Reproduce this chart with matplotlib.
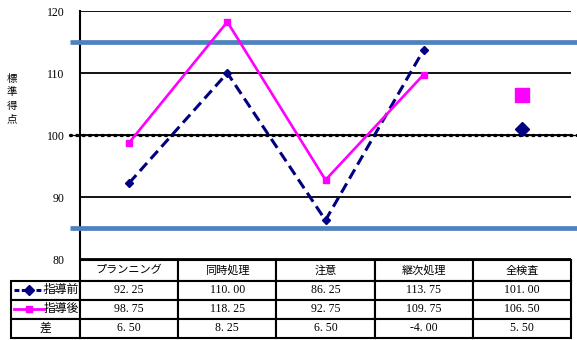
import numpy as np
import matplotlib
matplotlib.use('Agg')
from matplotlib import pyplot as plt
from matplotlib.lines import Line2D

plt.rcParams['font.family'] = ['Liberation Serif', 'Noto Sans CJK JP']

categories = ['プランニング', '同時処理', '注意', '継次処理', '全検査']
before = [92.25, 110.00, 86.25, 113.75, 101.00]
after = [98.75, 118.25, 92.75, 109.75, 106.50]
diff = [6.50, 8.25, 6.50, -4.00, 5.50]
series_names = ['指導前', '指導後', '差']
yticks = [80, 90, 100, 110, 120]
band_lines = [85, 115]
mean_line = 100
ylabel = '標準得点'

navy = '#000080'
magenta = '#ff00ff'
blue = '#4f81bd'

fig = plt.figure(figsize=(5.77, 3.40), dpi=100)
W, H = 577, 340
x0, x1, ytop, ybot = 80, 571, 11, 259
ax = fig.add_axes([x0 / W, 1 - ybot / H, (x1 - x0) / W, (ybot - ytop) / H])

x = np.arange(len(categories))
# lines for the four subtests, whole test shown as a lone marker
ax.plot(x[:4], before[:4], color=navy, lw=2.2, ls=(0, (3.5, 1.8)),
        marker='D', ms=4.5, zorder=5)
ax.plot(x[:4], after[:4], color=magenta, lw=1.9, marker='s', ms=5, zorder=6)
ax.plot(x[4], before[4], color=navy, marker='D', ms=7.5, ls='none', zorder=5)
ax.plot(x[4], after[4], color=magenta, marker='s', ms=9.5, ls='none', zorder=6)

trans = ax.get_yaxis_transform()
for v in band_lines:
    ax.plot([-0.02, 1.02], [v, v], color=blue, lw=3.4, transform=trans,
            clip_on=False, zorder=3, solid_capstyle='butt')
ax.plot([-0.02, 1.02], [mean_line, mean_line], color='black', lw=0.9,
        transform=trans, clip_on=False, zorder=4)
ax.plot([-0.02, 1.02], [mean_line, mean_line], color='black', lw=2.4,
        ls=(0, (0.3, 1.6)), dash_capstyle='round', transform=trans,
        clip_on=False, zorder=4)

ax.set_xlim(-0.5, 4.5)
ax.set_ylim(80, 120)
ax.set_yticks(yticks)
ax.set_xticks([])
ax.tick_params(axis='y', length=0, pad=11, labelsize=8.5)
ax.yaxis.grid(True, color='black', lw=1.3)
ax.set_axisbelow(True)
for s in ['top', 'right', 'bottom']:
    ax.spines[s].set_visible(False)
ax.spines['left'].set_linewidth(1.5)

ax_h = ybot - ytop
for i, ch in enumerate(ylabel):
    ax.text((12 - x0) / (x1 - x0), (ybot - (79 + 13.3 * i)) / ax_h, ch,
            transform=ax.transAxes, ha='center', va='center', fontsize=7.5,
            family='Noto Sans CJK JP')

# data table under the chart
def fmt(v):
    return ('%.2f' % v).replace('.', '. ')

cell_text = [[''] + categories]
cell_text.append([series_names[0]] + [fmt(v) for v in before])
cell_text.append([series_names[1]] + [fmt(v) for v in after])
cell_text.append([series_names[2]] + [fmt(v) for v in diff])
tx0 = (11 - x0) / (x1 - x0)
tw = (x1 - 11) / (x1 - x0)
ty0 = -(338 - ybot) / ax_h
th = (338 - 260) / ax_h
widths = [69] + [98.2] * 5
tbl = ax.table(cellText=cell_text, cellLoc='center', colWidths=widths,
               bbox=[tx0, ty0, tw, th])
tbl.auto_set_font_size(False)
for (r, c), cell in tbl.get_celld().items():
    cell.set_linewidth(1.5)
    cell.get_text().set_fontsize(8.5 if r > 0 else 8)
    if r == 0:
        cell.set_height(cell.get_height() * 1.1)
    if r == 0 and c == 0:
        cell.visible_edges = ''
    if c == 0 and r in (1, 2):
        cell.get_text().set_ha('right')
        cell._loc = 'right'
        cell.PAD = 0.02

# legend keys inside the row label cells
row_h = th / 4.1
for r, (col, mk, ls, lw) in enumerate([(navy, 'D', (0, (1.6, 0.8)), 2.2),
                                       (magenta, 's', '-', 2.0)]):
    yy = ty0 + row_h * (2.5 - r)
    xa = (14 - x0) / (x1 - x0)
    xb = (44 - x0) / (x1 - x0)
    ax.add_line(Line2D([xa, xb], [yy, yy], color=col, lw=lw, ls=ls,
                       transform=ax.transAxes, clip_on=False))
    ax.add_line(Line2D([(xa + xb) / 2], [yy], color=col, marker=mk, ms=5,
                       transform=ax.transAxes, clip_on=False))

fig.savefig('out.png', dpi=100)
